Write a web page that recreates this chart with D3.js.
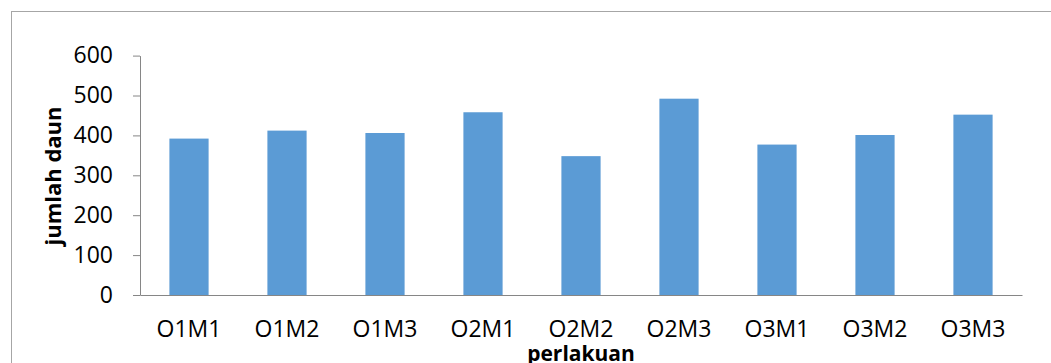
<!DOCTYPE html>
<html><head><meta charset="utf-8">
<script src="https://cdn.jsdelivr.net/npm/d3@7"></script>
<style>html,body{margin:0;padding:0;background:#fff;overflow:hidden}</style>
</head><body>
<svg id="c" width="1051" height="363"></svg>
<script>
const categories = ["O1M1","O1M2","O1M3","O2M1","O2M2","O2M3","O3M1","O3M2","O3M3"];
const values = [392, 412, 406, 458, 348, 492, 377, 401, 452];
const yTicks = [0,100,200,300,400,500,600];
const xTitle = "perlakuan";
const yTitle = "jumlah daun";

const svg = d3.select("#c");
const font = "'Open Sans', sans-serif";
const m = {left:140, right:1022, top:55.6, bottom:295};

svg.append("rect").attr("x",11.5).attr("y",11.5).attr("width",1100).attr("height",400)
  .attr("fill","#fff").attr("stroke","#a6a6a6").attr("stroke-width",1);

const x = d3.scaleBand().domain(categories).range([m.left,m.right]).paddingInner(0.6).paddingOuter(0.3);
const y = d3.scaleLinear().domain([0,600]).range([m.bottom,m.top]);

svg.selectAll("rect.bar").data(values).enter().append("rect").attr("class","bar")
  .attr("x",(d,i)=>x(categories[i])).attr("width",x.bandwidth())
  .attr("y",d=>y(d)).attr("height",d=>y(0)-y(d)).attr("fill","#5b9bd5");

const ya = svg.append("g").attr("transform",`translate(${m.left},0)`)
  .call(d3.axisLeft(y).tickValues(yTicks).tickSize(7).tickPadding(20).tickSizeOuter(0));
ya.select(".domain").attr("stroke","#868686");
ya.selectAll(".tick line").attr("stroke","#868686");
ya.selectAll("text").attr("font-family",font).attr("font-size",23).attr("fill","#000");

const xa = svg.append("g").attr("transform",`translate(0,${m.bottom})`)
  .call(d3.axisBottom(x).tickSize(0).tickPadding(26).tickSizeOuter(0));
xa.select(".domain").attr("stroke","#868686");
xa.selectAll("text").attr("font-family",font).attr("font-size",23).attr("fill","#000");

svg.append("text").attr("x",581).attr("y",361).attr("text-anchor","middle")
  .attr("font-family",font).attr("font-weight","bold").attr("font-size",21).text(xTitle);
svg.append("text").attr("transform","translate(61,176) rotate(-90)").attr("text-anchor","middle")
  .attr("font-family",font).attr("font-weight","bold").attr("font-size",22).text(yTitle);
</script>
</body></html>
